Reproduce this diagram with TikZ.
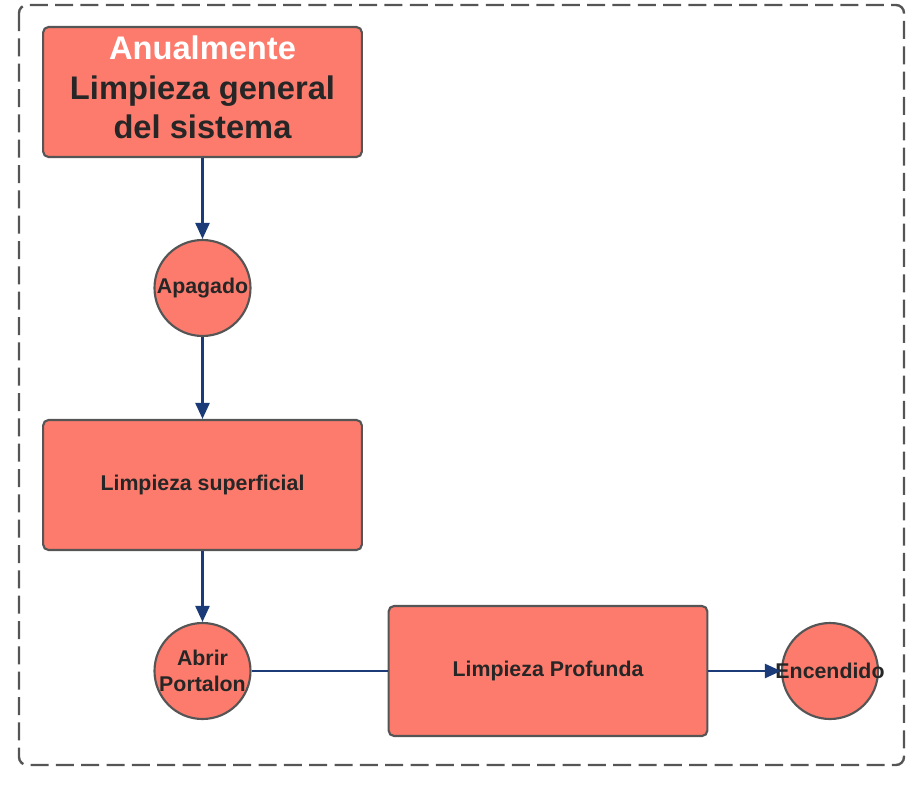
\documentclass[tikz,border=0pt]{standalone}
\usepackage{fontspec}
\setmainfont{Liberation Sans}
\usetikzlibrary{arrows.meta}
\definecolor{salmon}{HTML}{FC7B6D}
\definecolor{edge}{HTML}{555555}
\definecolor{navy}{HTML}{1A3A78}
\definecolor{txt}{HTML}{262626}
\tikzset{
  boxnode/.style={draw=edge, line width=1.6pt, fill=salmon, rounded corners=4pt,
    minimum width=239pt, minimum height=97.5pt, inner sep=0pt, align=center,
    text=txt, font=\bfseries\fontsize{16}{19.5}\selectfont},
  circnode/.style={draw=edge, line width=1.6pt, fill=salmon, circle,
    minimum size=72pt, inner sep=0pt},
  circtext/.style={text=txt, align=center, inner sep=0pt,
    font=\bfseries\fontsize{16}{19.5}\selectfont},
  flow/.style={draw=navy, line width=1.8pt},
  flowarrow/.style={flow, -{Triangle[length=12pt,width=10.5pt]}},
  frame/.style={draw=edge, line width=1.8pt, dash pattern=on 13.5pt off 5.5pt, rounded corners=6pt}
}
\begin{document}
\begin{tikzpicture}[x=0.75pt,y=-0.75pt]
\useasboundingbox (0,0) rectangle (921,785);
\draw[frame] (19,5) rectangle (904,765);
\node[boxnode, font=\bfseries\fontsize{24.5}{29.5}\selectfont] (top) at (202.5,92)
  {\textcolor{white}{Anualmente}\\Limpieza general\\del sistema\rule[-7pt]{0pt}{0pt}};
\node[circnode] (apagado) at (202.5,288) {};
\node[circtext] (apagadot) at (apagado.center) {Apagado};
\node[boxnode] (sup) at (202.5,485) {Limpieza superficial};
\node[circnode] (abrir) at (202.5,671) {};
\node[circtext] (abrirt) at (abrir.center) {Abrir\\Portalon};
\node[boxnode] (prof) at (548,671) {Limpieza Profunda};
\node[circnode] (enc) at (830,671) {};
\node[circtext] (enct) at (enc.center) {Encendido};
\draw[flowarrow] (top) -- (apagado);
\draw[flowarrow] (apagado) -- (sup);
\draw[flowarrow] (sup) -- (abrir);
\draw[flow] (abrir.east) -- (prof.west);
\draw[flowarrow] (prof.east) -- (enc.west);
\end{tikzpicture}
\end{document}
